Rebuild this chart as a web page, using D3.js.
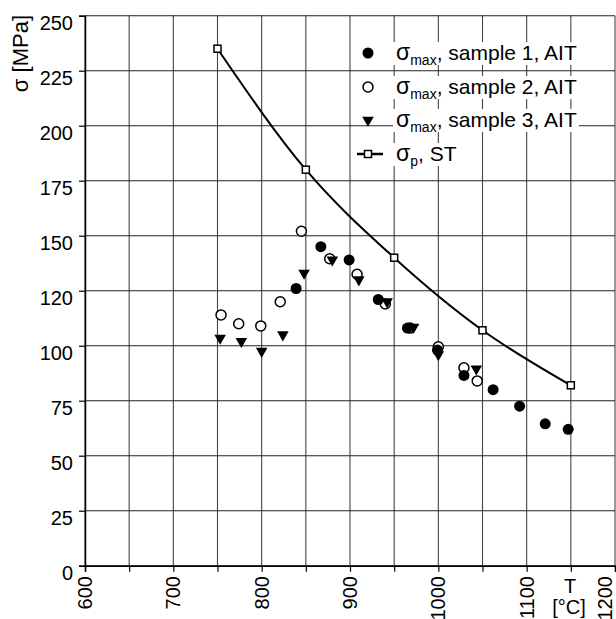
<!DOCTYPE html>
<html>
<head>
<meta charset="utf-8">
<script src="https://cdn.jsdelivr.net/npm/d3@7"></script>
<style>
  body { margin: 0; background: #fff; }
  text { font-family: "Liberation Sans", Arial, sans-serif; fill: #000; }
</style>
</head>
<body>
<script>
//chart data
var xTickValues = [600, 700, 800, 900, 1000, 1100, 1200];
var xGridValues = [600, 650, 700, 750, 800, 850, 900, 950, 1000, 1050, 1100, 1150, 1200];
var yTickValues = [0, 25, 50, 75, 100, 125, 150, 175, 200, 225, 250];
var yTickLabels = ["0", "25", "50", "75", "100", "120", "150", "175", "200", "225", "250"];

//sigma_max, sample 1, AIT
var s1T = [839, 867, 899, 932, 965, 999, 1029, 1062, 1092, 1121, 1147];
var s1S = [126, 145, 139, 121, 108, 98, 86.5, 80, 72.5, 64.5, 62];
//sigma_max, sample 2, AIT
var s2T = [754, 774, 799, 821, 845, 877, 908, 940, 968, 1000, 1029, 1044];
var s2S = [114, 110, 109, 120, 152, 139.5, 132.5, 119, 108, 99.5, 90, 84];
//sigma_max, sample 3, AIT
var s3T = [753, 777, 800, 824, 848, 880, 910, 942, 972, 1000, 1043];
var s3S = [103.5, 102, 97.5, 105, 133, 139, 130, 120, 108.5, 96, 89.5];
//sigma_p, ST
var stT = [750, 850, 950, 1050, 1150];
var stS = [235, 180, 140, 107, 82];

var width = 616, height = 619;

var svg = d3.select("body").append("svg")
    .attr("width", width)
    .attr("height", height);

var x = d3.scaleLinear().domain([600, 1200]).range([85, 615]);
var y = d3.scaleLinear().domain([0, 250]).range([565.7, 15.7]);

function zip(a, b){
    return a.map(function(d, i){ return [d, b[i]]; });
}

//grid lines
svg.append("g").selectAll("line")
    .data(xGridValues)
    .enter().append("line")
    .attr("x1", function(d){ return x(d); })
    .attr("x2", function(d){ return x(d); })
    .attr("y1", y(0))
    .attr("y2", y(250))
    .attr("stroke", "#444")
    .attr("stroke-width", 1.1);

svg.append("g").selectAll("line")
    .data(yTickValues)
    .enter().append("line")
    .attr("x1", x(600))
    .attr("x2", x(1200))
    .attr("y1", function(d){ return y(d); })
    .attr("y2", function(d){ return y(d); })
    .attr("stroke", "#222")
    .attr("stroke-width", 1.1);

//y axis
var yAxis = d3.axisLeft(y)
    .tickValues(yTickValues)
    .tickSize(6)
    .tickFormat("");
var gy = svg.append("g").attr("transform", "translate(" + x(600) + ",0)").call(yAxis);
gy.select(".domain").attr("stroke-width", 1.5);
gy.selectAll(".tick line").attr("stroke-width", 1.2);

svg.append("g").selectAll("text")
    .data(yTickValues)
    .enter().append("text")
    .attr("x", 73)
    .attr("y", function(d){ return y(d) + 14.5; })
    .attr("text-anchor", "end")
    .style("font-size", "20px")
    .text(function(d, i){ return yTickLabels[i]; });

//x axis
var xAxis = d3.axisBottom(x)
    .tickValues(xGridValues)
    .tickSize(6)
    .tickFormat("");
var gx = svg.append("g").attr("transform", "translate(0," + y(0) + ")").call(xAxis);
gx.select(".domain").attr("stroke-width", 1.5);
gx.selectAll(".tick line").attr("stroke-width", 1.2);

svg.append("g").selectAll("text")
    .data(xTickValues)
    .enter().append("text")
    .attr("transform", function(d){
        var cx = Math.min(x(d), 605);
        return "translate(" + (cx + 7) + "," + 576 + ") rotate(-90)";
    })
    .attr("text-anchor", "end")
    .style("font-size", "20px")
    .text(function(d){ return d; });

//axis titles
svg.append("text")
    .attr("transform", "translate(28,15) rotate(-90)")
    .attr("text-anchor", "end")
    .style("font-size", "22px")
    .text("σ [MPa]");

svg.append("text")
    .attr("x", 570).attr("y", 593)
    .attr("text-anchor", "middle")
    .style("font-size", "20px")
    .text("T");
svg.append("text")
    .attr("x", 569).attr("y", 614)
    .attr("text-anchor", "middle")
    .style("font-size", "20px")
    .text("[°C]");

//sigma_p curve
var line = d3.line()
    .x(function(d){ return x(d[0]); })
    .y(function(d){ return y(d[1]); })
    .curve(d3.curveMonotoneX);

svg.append("path")
    .datum(zip(stT, stS))
    .attr("d", line)
    .attr("fill", "none")
    .attr("stroke", "#000")
    .attr("stroke-width", 2);

svg.append("g").selectAll("rect")
    .data(zip(stT, stS))
    .enter().append("rect")
    .attr("x", function(d){ return x(d[0]) - 3.5; })
    .attr("y", function(d){ return y(d[1]) - 3.5; })
    .attr("width", 7).attr("height", 7)
    .attr("fill", "#fff")
    .attr("stroke", "#000")
    .attr("stroke-width", 1.5);

//markers
var tri = d3.symbol().type(d3.symbolTriangle).size(58);

function drawFilled(g, pts){
    g.selectAll("circle.f").data(pts).enter().append("circle")
        .attr("class", "f")
        .attr("cx", function(d){ return x(d[0]); })
        .attr("cy", function(d){ return y(d[1]); })
        .attr("r", 5.5)
        .attr("fill", "#000");
}
function drawOpen(g, pts){
    g.selectAll("circle.o").data(pts).enter().append("circle")
        .attr("class", "o")
        .attr("cx", function(d){ return x(d[0]); })
        .attr("cy", function(d){ return y(d[1]); })
        .attr("r", 5)
        .attr("fill", "#fff")
        .attr("stroke", "#000")
        .attr("stroke-width", 1.5);
}
function drawTri(g, pts){
    g.selectAll("path.t").data(pts).enter().append("path")
        .attr("class", "t")
        .attr("d", tri)
        .attr("transform", function(d){
            return "translate(" + x(d[0]) + "," + y(d[1]) + ") rotate(180)";
        })
        .attr("fill", "#000");
}

var marks = svg.append("g");
drawOpen(marks, zip(s2T, s2S));
drawTri(marks, zip(s3T, s3S));
drawFilled(marks, zip(s1T, s1S));

//legend
var legendRows = [
    {sub: "max", rest: ", sample 1, AIT"},
    {sub: "max", rest: ", sample 2, AIT"},
    {sub: "max", rest: ", sample 3, AIT"},
    {sub: "p", rest: ", ST"}
];
var rowY = [53, 87, 120, 154];
var legend = svg.append("g");

legendRows.forEach(function(r, i){
    var g = legend.append("g").attr("transform", "translate(0," + rowY[i] + ")");
    var t = g.append("text")
        .attr("x", 396)
        .attr("y", 7)
        .style("font-size", "21px");
    t.append("tspan").style("font-size", "23px").text("σ");
    t.append("tspan").attr("dy", 5).style("font-size", "14px").text(r.sub);
    t.append("tspan").attr("dy", -5).text(r.rest);
    var bb = t.node().getBBox();
    g.insert("rect", "text")
        .attr("x", bb.x - 3)
        .attr("y", -11)
        .attr("width", bb.width + 5)
        .attr("height", 23)
        .attr("fill", "#fff");
});

var lg = legend.append("g");
drawFilled(lg.append("g"), [[x.invert(368), y.invert(rowY[0])]]);
drawOpen(lg.append("g"), [[x.invert(368), y.invert(rowY[1])]]);
drawTri(lg.append("g"), [[x.invert(368), y.invert(rowY[2])]]);
lg.append("line")
    .attr("x1", 357).attr("x2", 383)
    .attr("y1", rowY[3]).attr("y2", rowY[3])
    .attr("stroke", "#000").attr("stroke-width", 2.5);
lg.append("rect")
    .attr("x", 364.5).attr("y", rowY[3] - 3.5)
    .attr("width", 7).attr("height", 7)
    .attr("fill", "#fff").attr("stroke", "#000").attr("stroke-width", 1.5);
</script>
</body>
</html>
